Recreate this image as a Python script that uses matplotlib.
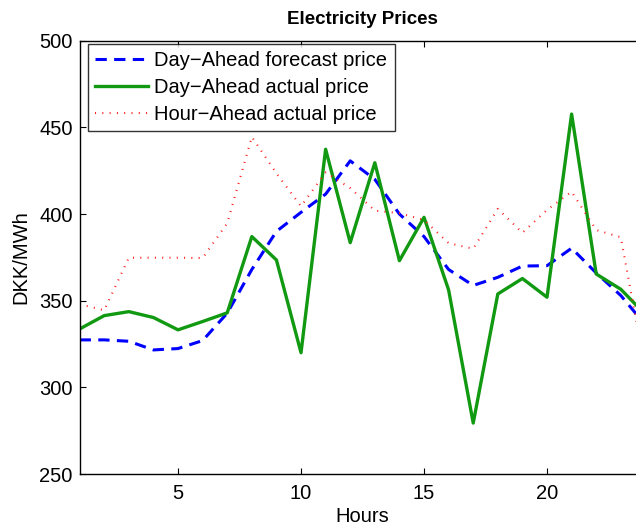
import matplotlib
matplotlib.use("Agg")
from matplotlib import pyplot as plt

# hourly prices (DKK/MWh)
hours = list(range(1, 25))
da_forecast = [327.4, 327.4, 326.6, 321.6, 322.4, 327.0, 342.8, 368.0, 390.0, 401.0, 411.5, 430.7,
               420.0, 400.0, 387.0, 368.0, 358.8, 363.5, 370.0, 370.2, 380.3, 366.0, 353.0, 336.0]
da_actual = [333.7, 341.4, 343.7, 340.3, 333.2, 338.0, 343.0, 387.0, 373.5, 320.0, 437.4, 383.5,
             429.6, 373.1, 398.1, 356.2, 279.4, 353.9, 362.8, 352.0, 457.7, 365.4, 356.6, 342.0]
ha_actual = [348.0, 344.5, 374.8, 374.8, 374.8, 374.6, 394.7, 444.5, 423.5, 404.5, 424.0, 415.0,
             402.0, 400.5, 396.6, 383.2, 380.0, 403.0, 389.2, 402.4, 412.9, 390.8, 386.6, 310.0]

labels = ["Day\u2212Ahead forecast price", "Day\u2212Ahead actual price", "Hour\u2212Ahead actual price"]
x_ticks = [5, 10, 15, 20]
y_ticks = [250, 300, 350, 400, 450, 500]

plt.rcParams['font.family'] = ['Liberation Sans', 'DejaVu Sans']

fig = plt.figure(figsize=(6.36, 5.25), dpi=100)
# axes run a bit past the right edge of the picture, like the cropped original
ax = fig.add_axes([0.1252, 0.0971, 0.8896, 0.8253])

ax.plot(hours, da_forecast, color='#0000ff', lw=2.2, dashes=(3.7, 2.4), label=labels[0])
ax.plot(hours, da_actual, color='#119911', lw=2.4, label=labels[1])
ax.plot(hours, ha_actual, color='#ff2020', lw=1.5, dashes=(0.5, 3.0), label=labels[2])

ax.set_xlim(1, 24)
ax.set_ylim(250, 500)
ax.set_xticks(x_ticks)
ax.set_yticks(y_ticks)
ax.tick_params(direction='in', length=4, width=0.8, labelsize=14.5, top=True, right=True, pad=5)
ax.tick_params(axis='x', pad=7)
for s in ax.spines.values():
    s.set_linewidth(1.0)

ax.set_title("Electricity Prices", fontsize=13.5, fontweight='bold', pad=12)
ax.set_xlabel("Hours", fontsize=14.5, labelpad=3)
ax.set_ylabel("DKK/MWh", fontsize=14.5, labelpad=6)

leg = ax.legend(loc='upper left', bbox_to_anchor=(0.0148, 0.9924), fontsize=14.5,
                frameon=True, fancybox=False, edgecolor='black',
                handlelength=2.65, handletextpad=0.3, labelspacing=0.4,
                borderpad=0.35, borderaxespad=0)
leg.get_frame().set_linewidth(1.0)

fig.savefig("out.png", dpi=100)
